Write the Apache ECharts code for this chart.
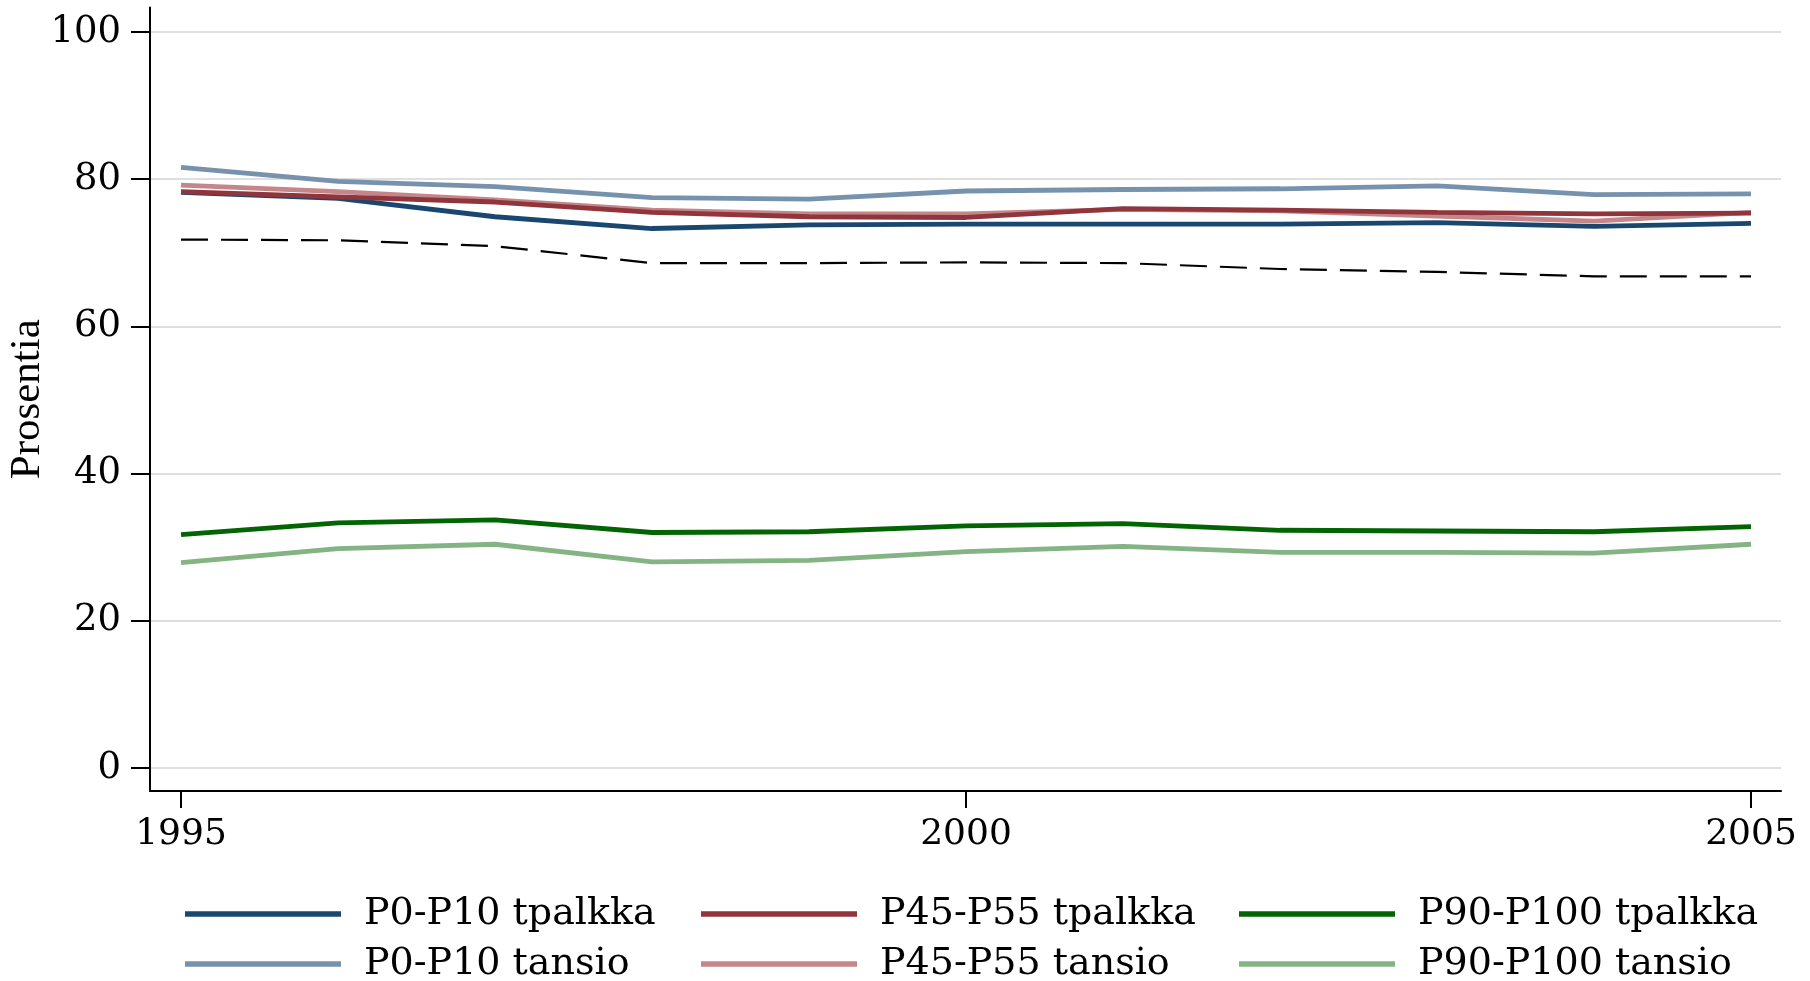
<!DOCTYPE html>
<html>
<head>
<meta charset="utf-8">
<script src="https://cdn.jsdelivr.net/npm/echarts@6/dist/echarts.min.js"></script>
<style>html,body{margin:0;padding:0;background:#fff}#c{width:1810px;height:981px}</style>
</head>
<body>
<div id="c"></div>
<script>
const years = [1995,1996,1997,1998,1999,2000,2001,2002,2003,2004,2005];
const p0Tpalkka   = [78.2,77.4,74.9,73.3,73.8,73.9,73.9,73.9,74.1,73.6,74.0];
const p45Tpalkka  = [78.3,77.6,76.9,75.5,74.9,74.8,76.0,75.8,75.5,75.3,75.4];
const p90Tpalkka  = [31.7,33.3,33.7,32.0,32.1,32.9,33.2,32.3,32.2,32.1,32.8];
const p0Tansio    = [81.6,79.7,79.0,77.5,77.3,78.4,78.6,78.7,79.1,77.9,78.0];
const p45Tansio   = [79.2,78.3,77.2,75.8,75.3,75.3,75.9,75.7,75.0,74.3,75.5];
const p90Tansio   = [27.9,29.8,30.4,28.0,28.2,29.4,30.1,29.3,29.3,29.2,30.4];
const reference   = [71.8,71.7,70.9,68.6,68.6,68.7,68.6,67.8,67.4,66.8,66.8];
const yTicks = [0,20,40,60,80,100];
const xTicks = [1995,2000,2005];
const seriesNames = ['P0-P10 tpalkka','P45-P55 tpalkka','P90-P100 tpalkka','P0-P10 tansio','P45-P55 tansio','P90-P100 tansio'];
const seriesColors = ['#1a476f','#90353b','#036403','#7792ad','#c48689','#84b384'];

const pair = arr => years.map((y,i)=>[y,arr[i]]);
const font = 'DejaVu Serif';
const dataSets = [p0Tpalkka,p45Tpalkka,p90Tpalkka,p0Tansio,p45Tansio,p90Tansio];
const order = [3,4,5,0,1,2];

const series = order.map(i => ({
  name: seriesNames[i], type:'line', data: pair(dataSets[i]), showSymbol:false, symbol:'none',
  lineStyle:{color:seriesColors[i], width:4.8}, itemStyle:{color:seriesColors[i]}, animation:false
}));
series.push({name:'ref', type:'line', data: pair(reference), showSymbol:false, symbol:'none',
  lineStyle:{color:'#000', width:2.2, type:[27,13]}, animation:false});

const legendPos = [[185,895],[701,895],[1239,895],[185,945],[701,945],[1239,945]];
const legends = seriesNames.map((n,i)=>({
  data:[{name:n, icon:'rect'}], left:legendPos[i][0], top:legendPos[i][1], itemWidth:156, itemHeight:5.5,
  padding:0, selectedMode:false,
  textStyle:{fontFamily:font, fontSize:38, color:'#000', padding:[0,0,0,18]}
}));

const chart = echarts.init(document.getElementById('c'));
chart.setOption({
  animation:false,
  backgroundColor:'#fff',
  grid:{left:150, right:29, top:7.5, bottom:190, containLabel:false, outerBoundsMode:'none'},
  legend: legends,
  xAxis:{type:'value', min:1994.8025, max:2005.191,
    axisLine:{show:true, onZero:false, lineStyle:{color:'#000', width:2}},
    axisTick:{show:true, customValues:xTicks, length:17, lineStyle:{color:'#000', width:2}},
    axisLabel:{customValues:xTicks, formatter: v => String(v), fontFamily:font, fontSize:36, color:'#000', margin:26, showMinLabel:true, showMaxLabel:true},
    splitLine:{show:false}},
  yAxis:{type:'value', min:-3.125, max:103.33,
    name:'Prosentia', nameLocation:'middle', nameGap:101, nameRotate:90, nameMoveOverlap:false,
    nameTextStyle:{fontFamily:'Liberation Serif', fontSize:43, color:'#000'},
    axisLine:{show:true, onZero:false, lineStyle:{color:'#000', width:2}},
    axisTick:{show:true, customValues:yTicks, length:19, lineStyle:{color:'#000', width:2}},
    axisLabel:{customValues:yTicks, formatter: v => String(v), fontFamily:font, fontSize:37, color:'#000', margin:29},
    splitLine:{show:true, lineStyle:{color:'#d4d4d4', width:1.5}}},
  series: series
});
</script>
</body>
</html>
